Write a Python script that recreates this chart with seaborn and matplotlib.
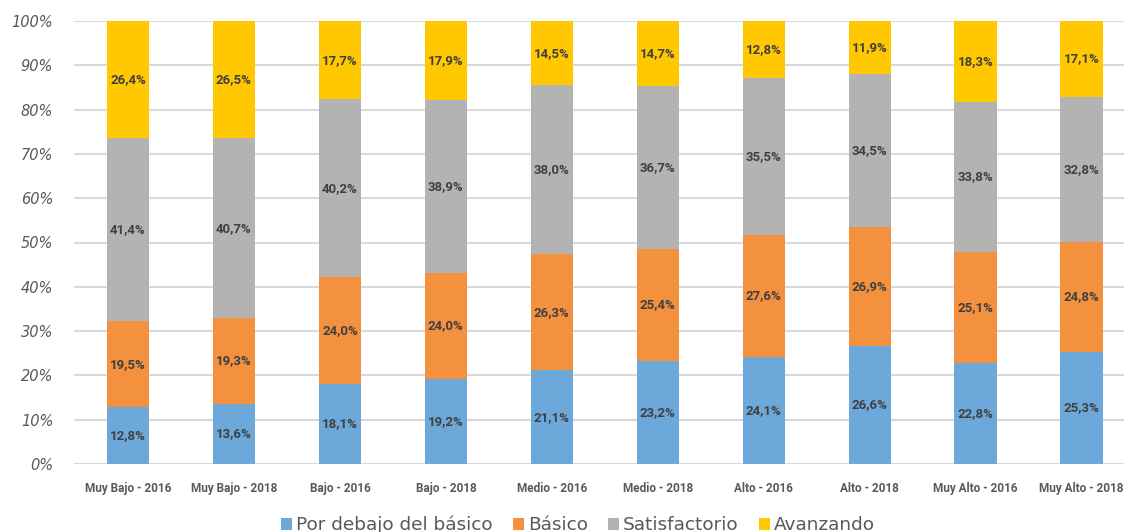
import numpy as np
import matplotlib
matplotlib.use('Agg')
import matplotlib.pyplot as plt
import seaborn as sns

# datos
categorias = ['Muy Bajo - 2016', 'Muy Bajo - 2018', 'Bajo - 2016', 'Bajo - 2018',
              'Medio - 2016', 'Medio - 2018', 'Alto - 2016', 'Alto - 2018',
              'Muy Alto - 2016', 'Muy Alto - 2018']
por_debajo = [12.8, 13.6, 18.1, 19.2, 21.1, 23.2, 24.1, 26.6, 22.8, 25.3]
basico = [19.5, 19.3, 24.0, 24.0, 26.3, 25.4, 27.6, 26.9, 25.1, 24.8]
satisfactorio = [41.4, 40.7, 40.2, 38.9, 38.0, 36.7, 35.5, 34.5, 33.8, 32.8]
avanzando = [26.4, 26.5, 17.7, 17.9, 14.5, 14.7, 12.8, 11.9, 18.3, 17.1]
series = ['Por debajo del básico', 'Básico', 'Satisfactorio', 'Avanzando']
colores = ['#6CA9DA', '#F3913F', '#B3B3B3', '#FFC800']
yticks = [0, 10, 20, 30, 40, 50, 60, 70, 80, 90, 100]

sns.set_style('white')
narrow = ['Liberation Sans Narrow', 'Roboto', 'DejaVu Sans']

datos = np.array([por_debajo, basico, satisfactorio, avanzando])
pct = datos / datos.sum(axis=0) * 100      # gráfico 100% apilado

fig = plt.figure(figsize=(11.24, 5.32), dpi=100)
ax = fig.add_axes([74/1124, 1-464/532, 1-74/1124, 443/532])

base = np.zeros(len(categorias))
for i in range(4):
    sns.barplot(x=categorias, y=pct[i], bottom=base, color=colores[i], width=0.4,
                saturation=1, label=series[i], ax=ax, linewidth=0)
    for j in range(len(categorias)):
        txt = f'{datos[i][j]:.1f}%'.replace('.', ',')
        ax.text(j, base[j] + pct[i][j]/2, txt, ha='center', va='center',
                fontsize=9.5, fontweight='bold', color='#404040', family=narrow)
    base = base + pct[i]

ax.set_ylim(0, 100)
ax.set_xlim(-0.51, 9.4)
ax.set_yticks(yticks)
ax.set_yticklabels([f'{v}%' for v in yticks], fontsize=10.5, style='italic',
                   color='#595959')
ax.set_xticks(range(len(categorias)))
ax.set_xticklabels(categorias, fontsize=8.5, fontweight='bold', color='#595959',
                   family=narrow)
ax.tick_params(axis='both', length=0)
ax.tick_params(axis='x', pad=13)
ax.tick_params(axis='y', pad=15)
ax.yaxis.grid(True, color='#D9D9D9', linewidth=1.5)
ax.set_axisbelow(True)
for s in ax.spines.values():
    s.set_visible(False)
ax.set_xlabel('')

handles, labels = ax.get_legend_handles_labels()
fig.legend(handles, labels, loc='center', bbox_to_anchor=(578/1124, 1-525/532), ncol=4,
           frameon=False, fontsize=13.3, handlelength=0.6, handleheight=0.6,
           handletextpad=0.2, columnspacing=1.1, labelcolor='#595959')
if ax.get_legend():
    ax.get_legend().remove()

fig.savefig('out.png', dpi=100)
